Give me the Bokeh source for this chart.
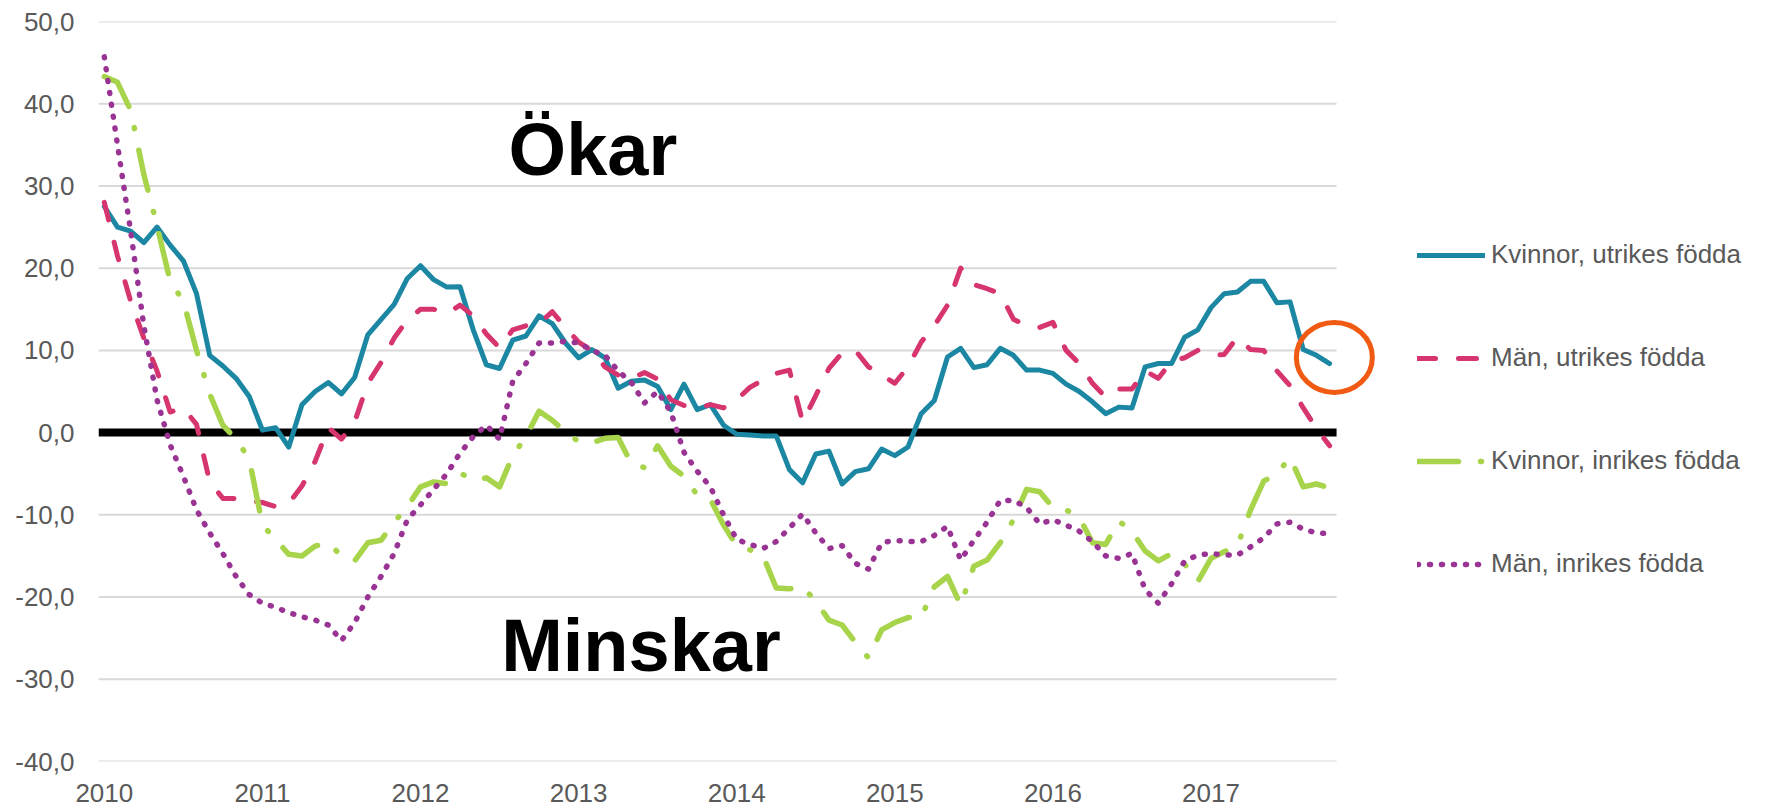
import numpy as np
from bokeh.plotting import figure
from bokeh.models import (Range1d, FixedTicker, CustomJSTickFormatter, Legend,
                          LegendItem, Label)
from bokeh.embed import file_html
from bokeh.resources import INLINE

# ---------------- data ----------------
start_year = 2010
n_months = 94  # Jan 2010 .. Oct 2017
year_ticks = [2010, 2011, 2012, 2013, 2014, 2015, 2016, 2017]
y_ticks = [-40, -30, -20, -10, 0, 10, 20, 30, 40, 50]

series_names = ["Kvinnor, utrikes födda", "Män, utrikes födda",
                "Kvinnor, inrikes födda", "Män, inrikes födda"]

kvinnor_utrikes = [
    27.5, 25.0, 24.5, 23.1, 25.0, 22.8, 20.9, 16.9, 9.4, 8.1,
    6.6, 4.4, 0.3, 0.6, -1.75, 3.4, 5.0, 6.1, 4.7, 6.7,
    11.9, 13.75, 15.6, 18.75, 20.3, 18.6, 17.7, 17.75, 12.5, 8.25,
    7.8, 11.25, 11.75, 14.2, 13.25, 10.9, 9.1, 10.1, 9.1, 5.4,
    6.25, 6.4, 5.6, 2.8, 5.9, 2.8, 3.4, 0.9, -0.2, -0.3,
    -0.4, -0.4, -4.5, -6.1, -2.6, -2.25, -6.25, -4.75, -4.4, -2.0,
    -2.8, -1.75, 2.3, 3.9, 9.2, 10.25, 7.9, 8.25, 10.25, 9.4,
    7.6, 7.6, 7.2, 5.9, 5.0, 3.75, 2.3, 3.1, 3.0, 8.0,
    8.4, 8.4, 11.6, 12.5, 15.2, 16.9, 17.1, 18.4, 18.4, 15.8,
    15.9, 10.1, 9.4, 8.4]

man_utrikes = [
    28.0, 21.5, 16.0, 11.5, 7.5, 2.5, 3.0, 1.0, -6.0, -8.0,
    -8.0, -8.3, -8.5, -9.0, -8.6, -6.5, -3.5, 0.6, -0.8, 1.3,
    6.0, 8.5, 11.5, 13.7, 15.0, 15.0, 14.5, 15.5, 14.2, 12.0,
    10.3, 12.5, 13.0, 13.3, 14.7, 12.8, 11.0, 10.0, 8.0, 7.0,
    6.6, 7.3, 6.5, 4.0, 3.3, 3.0, 3.4, 3.0, 4.0, 5.5,
    6.4, 7.2, 7.6, 1.3, 4.5, 7.8, 9.7, 10.0, 8.0, 7.0,
    6.0, 8.0, 11.0, 13.0, 15.5, 20.0, 18.0, 17.5, 16.9, 13.8,
    13.0, 12.8, 13.4, 10.0, 8.4, 6.0, 4.3, 5.3, 5.3, 7.5,
    6.6, 8.7, 9.1, 10.0, 9.4, 9.5, 11.6, 10.1, 10.0, 7.5,
    5.7, 3.0, 0.5, -1.6]

kvinnor_inrikes = [
    43.3, 42.6, 39.2, 31.4, 25.2, 18.4, 16.0, 10.0, 4.7, 0.9,
    -0.8, -3.2, -11.2, -13.0, -14.8, -15.0, -13.8, -13.4, -15.0, -15.6,
    -13.4, -13.1, -10.9, -9.0, -6.6, -6.0, -6.2, -4.9, -5.8, -5.5,
    -6.6, -2.8, -0.5, 2.6, 1.5, 0.1, -1.1, -1.25, -0.7, -0.6,
    -3.75, -4.25, -1.6, -4.1, -5.3, -7.6, -8.1, -11.25, -13.75, -14.25,
    -15.0, -18.9, -19.0, -18.75, -20.5, -22.8, -23.4, -25.5, -27.4, -24.0,
    -23.1, -22.5, -22.5, -18.75, -17.5, -21.0, -16.25, -15.5, -13.4, -10.6,
    -6.9, -7.2, -9.1, -9.4, -10.3, -13.4, -13.6, -10.75, -12.0, -14.4,
    -15.6, -14.7, -16.0, -18.1, -15.3, -14.5, -13.75, -9.4, -5.9, -5.0,
    -3.0, -6.6, -6.25, -6.75]

man_inrikes = [
    45.7, 35.0, 24.5, 13.0, 4.0, -1.5, -5.3, -9.4, -12.2, -14.7,
    -17.5, -19.7, -20.75, -21.25, -21.9, -22.4, -22.8, -23.4, -25.3, -23.1,
    -20.0, -17.5, -14.7, -10.6, -8.8, -6.9, -5.0, -2.5, -0.5, 0.9,
    -0.8, 6.25, 8.4, 10.9, 10.9, 11.1, 10.9, 10.0, 9.4, 7.5,
    6.1, 3.6, 5.0, 2.5, -2.4, -4.7, -6.6, -10.0, -13.0, -13.6,
    -14.1, -13.25, -11.6, -9.9, -12.2, -14.1, -13.75, -15.9, -16.6, -13.4,
    -13.1, -13.25, -13.25, -12.5, -11.4, -15.5, -13.1, -10.9, -8.25, -8.25,
    -9.1, -11.1, -10.6, -11.25, -12.0, -13.25, -15.0, -15.3, -14.7, -19.1,
    -20.75, -18.4, -15.6, -14.9, -14.7, -14.9, -14.9, -13.9, -12.8, -11.1,
    -10.9, -11.75, -12.2, -12.3]

x = [start_year + i / 12 for i in range(n_months)]

# ---------------- figure ----------------
FONT = "Liberation Sans"
GREY = "#595959"

x_start = 2009.9633
x_end = 2020.507
grid_end = 2017.794

p = figure(width=1765, height=806,
           x_range=Range1d(x_start, x_end), y_range=Range1d(-40, 50),
           output_backend="svg", toolbar_location=None,
           min_border_left=98, min_border_right=0,
           min_border_top=21, min_border_bottom=45)
p.outline_line_color = None
p.xgrid.visible = False
p.ygrid.visible = False

# y axis
p.yaxis.ticker = FixedTicker(ticks=y_ticks)
p.yaxis.formatter = CustomJSTickFormatter(code="return tick.toFixed(1).replace('.', ',');")
p.yaxis.axis_line_color = None
p.yaxis.major_tick_line_color = None
p.yaxis.minor_tick_line_color = None
p.yaxis.major_tick_out = 0
p.yaxis.major_tick_in = 0
p.yaxis.major_label_standoff = 24
p.yaxis.major_label_text_font = FONT
p.yaxis.major_label_text_font_size = "26px"
p.yaxis.major_label_text_color = GREY

# x axis
p.xaxis.ticker = FixedTicker(ticks=year_ticks)
p.xaxis.formatter = CustomJSTickFormatter(code="return tick.toFixed(0);")
p.xaxis.axis_line_color = None
p.xaxis.major_tick_line_color = None
p.xaxis.minor_tick_line_color = None
p.xaxis.major_tick_out = 0
p.xaxis.major_tick_in = 0
p.xaxis.major_label_standoff = 22
p.xaxis.major_label_text_font = FONT
p.xaxis.major_label_text_font_size = "26px"
p.xaxis.major_label_text_color = GREY

# gridlines (limited to the original plot area)
p.segment(x0=[x_start] * len(y_ticks), y0=y_ticks,
          x1=[grid_end] * len(y_ticks), y1=y_ticks,
          line_color="#d9d9d9", line_width=2)
# zero line
p.segment(x0=[x_start], y0=[0], x1=[grid_end], y1=[0],
          line_color="black", line_width=8, line_cap="butt")

r1 = p.line(x, kvinnor_utrikes, line_color="#1b87a3", line_width=5,
            line_join="round", line_cap="round")
r2 = p.line(x, man_utrikes, line_color="#d6356f", line_width=5,
            line_join="round", line_cap="round", line_dash="18 23")
r3 = p.line(x, kvinnor_inrikes, line_color="#a8d44b", line_width=5.5,
            line_join="round", line_cap="round", line_dash="41 22 1 22")
r4 = p.line(x, man_inrikes, line_color="#9a3494", line_width=5.5,
            line_join="round", line_cap="round", line_dash="1 11")

# highlight circle at the end of the blue series
p.ellipse(x=[2017.78], y=[9.14], width=76, height=70,
          width_units="screen", height_units="screen",
          fill_color=None, line_color="#f05a12", line_width=5)

# big annotations
p.add_layout(Label(x=2012.557, y=34.4, text="Ökar", text_font=FONT,
                   text_font_size="74px", text_font_style="bold",
                   text_color="black", text_baseline="alphabetic"))
p.add_layout(Label(x=2012.51, y=-25.9, text="Minskar", text_font=FONT,
                   text_font_size="74px", text_font_style="bold",
                   text_color="black", text_baseline="alphabetic"))

legend = Legend(items=[LegendItem(label=series_names[0], renderers=[r1]),
                       LegendItem(label=series_names[1], renderers=[r2]),
                       LegendItem(label=series_names[2], renderers=[r3]),
                       LegendItem(label=series_names[3], renderers=[r4])],
                location=(1319, 182), orientation="vertical",
                glyph_width=68, glyph_height=30, label_height=30,
                spacing=72, label_standoff=6, padding=0, margin=0,
                border_line_color=None, background_fill_alpha=0,
                label_text_font=FONT, label_text_font_size="26px",
                label_text_color=GREY)
p.add_layout(legend, "center")

open("out.html", "w").write(file_html(p, INLINE))
